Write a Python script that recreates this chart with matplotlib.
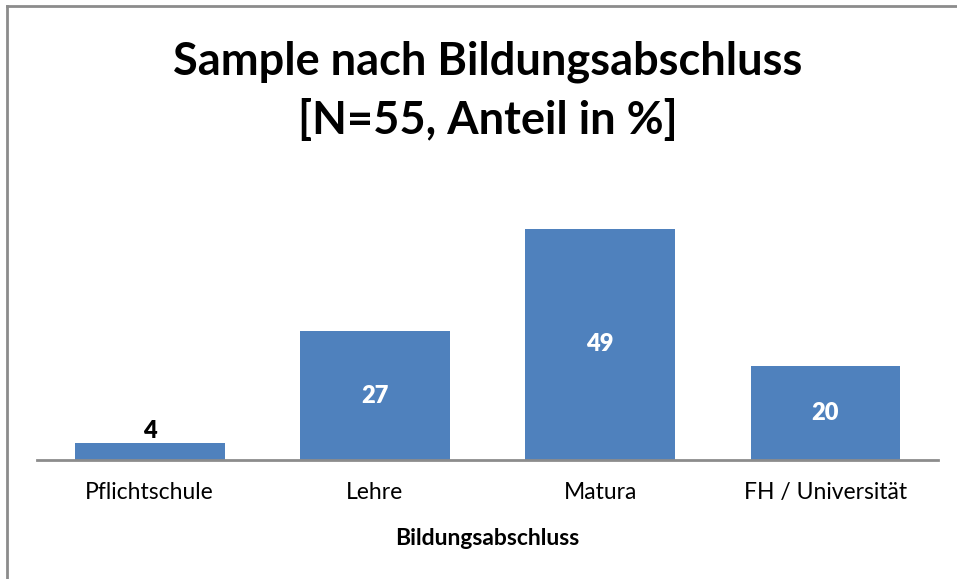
# Bar chart: Sample nach Bildungsabschluss
import matplotlib.pyplot as plt
from matplotlib.lines import Line2D

categories = ['Pflichtschule', 'Lehre', 'Matura', 'FH / Universität']
values = [3.6, 27.3, 49.1, 20.0]   # share in %, N=55

bar_color = '#4F81BD'
axis_color = '#8C8C8C'
font = 'Lato'

fig = plt.figure(figsize=(9.57, 5.79), dpi=100)
ax = fig.add_axes([0.0387, 0.2055, 0.9415, 0.488])

bars = ax.bar(range(len(categories)), values, width=0.665, color=bar_color)
ax.set_xlim(-0.5, len(categories) - 0.5)
ax.set_ylim(0, 60)

# value labels: inside (white) for tall bars, above for the small one
for b, v in zip(bars, values):
    x = b.get_x() + b.get_width() / 2
    if v < 10:
        ax.text(x, v + 0.3, f'{v:.0f}', ha='center', va='bottom',
                fontsize=17, fontweight='heavy', family=font, color='black')
    else:
        ax.text(x, v / 2, f'{v:.0f}', ha='center', va='center',
                fontsize=17, fontweight='heavy', family=font, color='white')

ax.set_xticks(range(len(categories)))
ax.set_xticklabels(categories, fontsize=16.5, family=font)
ax.tick_params(axis='x', length=0, pad=16)
ax.set_yticks([])
for s in ['top', 'right', 'left']:
    ax.spines[s].set_visible(False)
ax.spines['bottom'].set_color(axis_color)
ax.spines['bottom'].set_linewidth(2)

ax.set_xlabel('Bildungsabschluss', fontsize=16.5, fontweight='bold',
              family=font, labelpad=18)

fig.text(0.51, 0.843, 'Sample nach Bildungsabschluss\n[N=55, Anteil in %]',
         ha='center', va='center', fontsize=32.5, fontweight='bold',
         family=font, linespacing=1.45)

# chart frame (left and top edges visible)
fig.add_artist(Line2D([7 / 957, 7 / 957], [0, 1 - 6 / 579],
                      transform=fig.transFigure, color=axis_color, lw=2))
fig.add_artist(Line2D([7 / 957, 1], [1 - 6 / 579, 1 - 6 / 579],
                      transform=fig.transFigure, color=axis_color, lw=2))

plt.savefig('out.png', dpi=100)
